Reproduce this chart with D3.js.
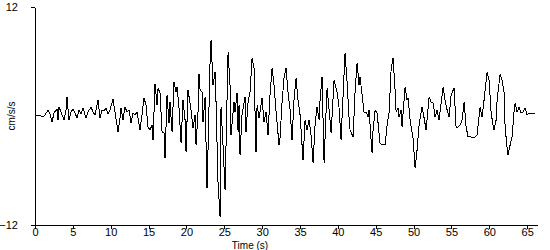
<!DOCTYPE html>
<html>
<head>
<meta charset="utf-8">
<script src="https://cdn.jsdelivr.net/npm/d3@7"></script>
<style>
  html, body { margin: 0; padding: 0; background: #fff; }
  svg { display: block; }
  text { font-family: "Liberation Sans", Arial, sans-serif; fill: #000; }
</style>
</head>
<body>
<svg id="chart" width="550" height="250"></svg>
<script>
// Time (s)
const time = [
  0.00,0.40,0.79,1.06,1.32,1.72,1.98,2.25,2.51,2.91,3.04,3.17,3.43,3.83,4.10,4.23,4.49,4.76,5.02,5.28,
  5.55,5.81,6.08,6.34,6.74,7.00,7.40,7.66,7.93,8.32,8.59,8.85,9.11,9.38,9.64,9.91,10.30,10.57,10.96,
  11.23,11.36,11.62,11.89,12.15,12.42,12.68,12.95,13.21,13.47,13.87,14.13,14.40,14.66,14.93,15.19,15.46,15.59,
  15.85,16.12,16.25,16.51,16.78,17.04,17.17,17.44,17.70,17.83,18.10,18.36,18.63,18.76,19.02,19.29,19.55,19.82,
  19.95,20.21,20.61,20.87,21.14,21.27,21.53,21.66,21.80,22.06,22.19,22.46,
  22.72,22.85,23.12,23.25,23.51,23.78,23.91,24.17,24.44,24.57,24.83,25.10,25.50,25.76,25.89,26.29,26.42,26.68,
  26.82,26.95,27.08,27.34,27.74,27.87,28.14,28.40,28.67,28.93,29.06,29.19,29.33,29.59,29.99,30.25,30.52,30.78,
  31.04,31.31,31.57,31.84,32.23,32.36,32.63,32.89,33.16,
  33.42,33.69,33.95,34.21,34.48,34.74,35.01,35.40,35.67,35.93,36.20,36.46,36.73,36.99,37.25,37.52,37.65,37.91,
  38.18,38.44,38.58,38.84,39.11,39.50,39.90,40.16,40.42,40.69,40.95,41.22,41.48,41.61,42.01,42.28,42.54,42.80,
  42.93,43.20,43.46,43.73,43.99,44.12,44.39,44.52,44.65,44.92,
  45.18,45.57,45.84,46.24,46.50,46.76,47.03,47.29,47.56,47.69,47.95,48.08,48.35,48.48,48.88,49.14,49.27,49.54,
  49.93,50.20,50.46,50.73,51.12,51.39,51.65,52.05,52.31,52.58,52.84,53.10,53.37,53.90,54.16,54.43,54.69,54.95,
  55.35,55.62,55.88,
  56.14,56.41,56.67,56.94,57.20,57.60,57.99,58.39,58.78,59.05,59.31,59.71,59.97,60.24,60.50,60.63,60.90,61.03,
  61.43,61.69,61.96,62.09,62.35,62.48,62.75,63.01,63.28,63.41,63.67,63.94,64.20,64.47,64.73,64.99,65.26,66.05
];
// Acceleration (cm/s/s)
const accel = [
  0.11,0.11,0.00,-0.11,0.11,0.66,0.22,-0.66,0.33,0.77,-0.44,0.99,0.44,-0.44,0.66,2.09,-0.44,0.44,0.77,0.33,
  -0.22,0.66,0.22,0.88,-0.22,0.44,0.99,0.44,0.11,1.76,-0.22,0.66,0.55,0.88,0.22,0.66,1.87,0.44,-1.76,
  -0.22,0.88,-0.44,0.99,0.44,0.66,-0.77,0.33,0.11,0.44,-1.54,0.11,1.98,1.21,-1.21,-1.54,-0.99,-2.64,
  3.52,1.21,3.08,2.53,-1.76,-1.87,-4.62,2.31,-0.77,1.54,-1.76,3.74,2.64,3.19,0.88,-2.97,1.76,-0.44,
  -3.96,2.86,0.66,-1.32,0.11,-3.19,0.44,4.62,2.86,2.64,-0.66,2.09,
  -7.93,-3.74,5.95,8.37,3.41,4.84,1.54,-7.27,-11.12,0.99,-3.19,-8.15,7.05,3.41,-2.09,1.54,0.44,2.53,
  -1.76,1.21,-4.29,0.11,2.09,-1.76,1.54,2.64,6.39,5.28,0.44,-3.96,1.21,-0.22,1.98,-0.66,0.44,-2.09,
  2.31,5.28,3.41,0.44,-3.19,-2.42,1.54,4.18,5.28,
  2.64,0.66,-2.64,1.76,4.18,1.76,0.11,-4.84,-0.44,-1.54,-0.44,-2.09,-5.17,-0.99,0.99,-0.44,1.76,4.29,
  -5.17,0.44,3.08,0.66,-1.87,3.96,2.64,0.88,-2.64,2.31,6.94,3.74,-0.22,-1.54,-2.31,2.86,5.84,3.41,
  4.29,2.31,0.33,0.44,-0.11,0.66,-2.64,-4.07,-1.54,0.66,
  0.33,-2.97,-3.19,-3.19,-0.99,0.33,5.06,6.39,2.86,0.44,0.88,-0.11,0.66,-1.21,3.19,1.76,1.98,-0.44,
  -2.42,-5.73,-3.74,-0.99,0.99,-0.22,-1.54,2.09,1.54,1.43,-0.11,0.66,-0.44,3.19,1.76,0.66,-0.11,2.31,
  3.08,-1.32,-1.21,
  -0.99,-0.44,1.54,-1.21,-2.31,-2.31,-2.42,-2.09,0.99,-0.11,1.76,4.84,3.96,0.33,-0.99,-1.54,-0.44,1.76,
  4.62,3.96,2.53,-1.21,-3.52,-4.29,-3.19,-2.31,0.66,1.43,0.44,0.99,0.33,0.44,0.88,0.11,0.33,0.33
];
const xTicks = [0,5,10,15,20,25,30,35,40,45,50,55,60,65];
const yTicks = [-12, 12];
const xTitle = "Time (s)";
const yTitle = "cm/s/s";

const svg = d3.select("#chart");
const x = d3.scaleLinear().domain([0, 66.3]).range([35, 537]);
const y = d3.scaleLinear().domain([-12, 12]).range([225, 7]);

const data = time.map((t, i) => ({ t, v: accel[i] }));

svg.append("path")
  .datum(data)
  .attr("fill", "none")
  .attr("stroke", "#000")
  .attr("stroke-width", 1)
  .attr("shape-rendering", "crispEdges")
  .attr("d", d3.line().x(d => x(d.t)).y(d => y(d.v)));

const gx = svg.append("g")
  .attr("transform", `translate(0,${y(-12)})`)
  .call(d3.axisBottom(x).tickValues(xTicks).tickSize(4).tickSizeOuter(0).tickPadding(-1));
gx.selectAll("text").attr("font-size", 11).attr("font-family", "Liberation Sans, Arial, sans-serif");

const gy = svg.append("g")
  .attr("transform", `translate(${x(0)},0)`)
  .call(d3.axisLeft(y).tickValues(yTicks).tickSize(4).tickSizeOuter(0).tickPadding(13).tickFormat(d3.format("d")));
gy.selectAll("text").attr("font-size", 11).attr("font-family", "Liberation Sans, Arial, sans-serif");

svg.selectAll(".domain, .tick line").attr("stroke", "#000").attr("shape-rendering", "crispEdges");

svg.append("text")
  .attr("x", 250).attr("y", 249)
  .attr("text-anchor", "middle")
  .attr("font-size", 10)
  .text(xTitle);

svg.append("text")
  .attr("transform", "translate(15,116) rotate(-90)")
  .attr("text-anchor", "middle")
  .attr("font-size", 10)
  .text(yTitle);
</script>
</body>
</html>
